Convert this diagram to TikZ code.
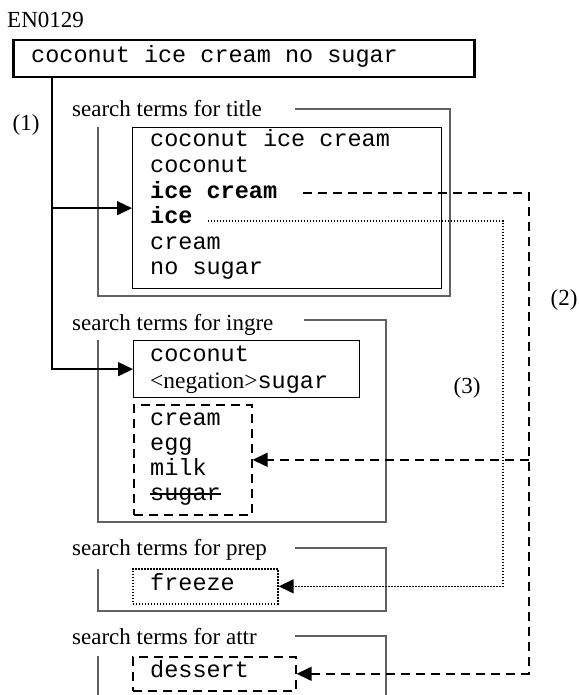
\documentclass[tikz,border=0pt]{standalone}
\usepackage{fontspec}
\setmainfont{Liberation Serif}
\newfontfamily\monofont{Liberation Mono}
\usetikzlibrary{arrows.meta}
\tikzset{
  lbl/.style={inner sep=0pt, anchor=base west, font=\fontsize{23}{25}\selectfont},
  mono/.style={inner sep=0pt, anchor=base west, font=\monofont\fontsize{23.5}{25}\selectfont},
  monob/.style={inner sep=0pt, anchor=base west, font=\monofont\bfseries\fontsize{23.5}{25}\selectfont},
  box/.style={draw, line width=1.3pt, inner sep=0pt, anchor=north west},
  frame/.style={draw=black!62, line width=1.2pt},
  arr/.style={line width=1.5pt, -{Triangle[length=15pt,width=14pt]}},
  dsh/.style={line width=1.6pt, dash pattern=on 9pt off 6pt},
  dot/.style={line width=1.7pt, dash pattern=on 1.5pt off 1.5pt},
}
\begin{document}
\begin{tikzpicture}[x=1pt, y=-1pt]
\useasboundingbox (0,0) rectangle (578,695);

% query header
\node[lbl] (id) at (7,28) {EN0129};
\node[box, line width=2.5pt, minimum width=461pt, minimum height=37pt] (top) at (12,39) {};
\node[mono] (q) at (31,63) {coconut ice cream no sugar};

% group frames
\draw[frame] (295,109) -- (450,109) -- (450,296) -- (98,296) -- (98,127);
\draw[frame] (304,320) -- (386,320) -- (386,522) -- (98,522) -- (98,340);
\draw[frame] (295,548) -- (386,548) -- (386,611) -- (98,611) -- (98,569);
\draw[frame] (295,636) -- (386,636) -- (386,700);
\draw[frame] (98,656) -- (98,700);

\node[lbl] (ltitle) at (72,117) {search terms for title};
\node[lbl] (lingre) at (72,330) {search terms for ingre};
\node[lbl] (lprep)  at (72,555) {search terms for prep};
\node[lbl] (lattr)  at (72,644) {search terms for attr};

% title terms
\node[box, minimum width=309pt, minimum height=161pt] (tb) at (132,127) {};
\node[mono]  (t1) at (150,147)   {coconut ice cream};
\node[mono]  (t2) at (150,172.5) {coconut};
\node[monob] (t3) at (150,198)   {ice cream};
\node[monob] (t4) at (150,223.5) {ice};
\node[mono]  (t5) at (150,249)   {cream};
\node[mono]  (t6) at (150,274.5) {no sugar};

% ingredient terms
\node[box, minimum width=226pt, minimum height=57pt] (ib) at (133,340) {};
\node[mono] (i1) at (150,361) {coconut};
\node[mono] (i2) at (150,388) {{\rmfamily <negation>}sugar};

\node[box, dsh, minimum width=118pt, minimum height=110pt] (ic) at (133,404) {};
\node[mono] (c1) at (150,425) {cream};
\node[mono] (c2) at (150,450) {egg};
\node[mono] (c3) at (150,475) {milk};
\node[mono] (c4) at (150,500) {sugar};
\draw[line width=1.5pt] ([yshift=6pt]c4.base west) -- ([yshift=6pt]c4.base east);

% preparation and attribute terms
\node[box, dot, minimum width=145pt, minimum height=35pt] (fz) at (132,568) {};
\node[mono] (f1) at (150,590) {freeze};
\node[box, dsh, minimum width=163pt, minimum height=34pt] (da) at (132,656) {};
\node[mono] (d1) at (150,677) {dessert};

% step labels
\node[inner sep=0pt, font=\fontsize{23}{25}\selectfont] (s1) at (26,125) {(1)};
\node[inner sep=0pt, font=\fontsize{23}{25}\selectfont] (s2) at (564,300) {(2)};
\node[inner sep=0pt, font=\fontsize{23}{25}\selectfont] (s3) at (467,388) {(3)};

% (1) split of the query
\coordinate (p1) at (52,0);
\draw[arr] (top.south -| p1) |- (tb.west);
\draw[arr] (top.south -| p1) |- (ib.west);

% (2) expansion of "ice cream"
\coordinate (xd) at (529,0);
\coordinate (ds) at ([xshift=26pt,yshift=5pt]t3.base east);
\draw[dsh, arr, line join=miter] (ds) -- (ds -| xd) -- (xd |- da.east) -- (da.east);
\draw[dsh, arr] (xd |- ic.east) -- (ic.east);

% (3) expansion of "ice"
\coordinate (xt) at (503,0);
\coordinate (ts) at ([xshift=15pt,yshift=2.5pt]t4.base east);
\draw[dot, arr, line join=miter] (ts) -- (ts -| xt) -- (xt |- fz.east) -- (fz.east);
\end{tikzpicture}
\end{document}
